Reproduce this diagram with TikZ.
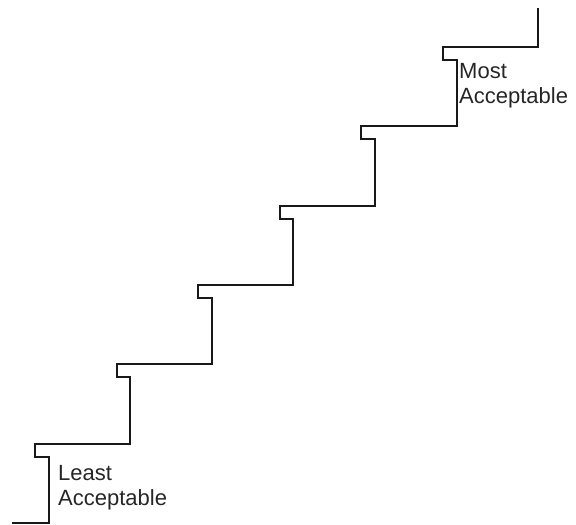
\documentclass[tikz,border=0pt]{standalone}
\usepackage{fontspec}
\setmainfont{Liberation Sans}
\begin{document}
\begin{tikzpicture}[x=1pt,y=-1pt,
  stair/.style={line width=2.8pt, line join=miter, color=black!90},
  lbl/.style={anchor=base west, inner sep=0pt, align=left, font=\fontsize{22}{25}\selectfont, text=black!85}]
\useasboundingbox (0,0) rectangle (576,525);
\draw[stair] (12,523) -- (49,523) -- (49,457) -- (35,457) -- (35,444) -- (130,444)
  -- (130,377) -- (117,377) -- (117,364) -- (212,364)
  -- (212,298) -- (198,298) -- (198,285) -- (293,285)
  -- (293,219) -- (280,219) -- (280,206) -- (375,206)
  -- (375,139) -- (361,139) -- (361,126) -- (457,126)
  -- (457,60) -- (443,60) -- (443,47) -- (538,47) -- (538,8);
\node[lbl] (least) at (58,505) {Least\\Acceptable};
\node[lbl] (most) at (459,103) {Most\\Acceptable};
\end{tikzpicture}
\end{document}
